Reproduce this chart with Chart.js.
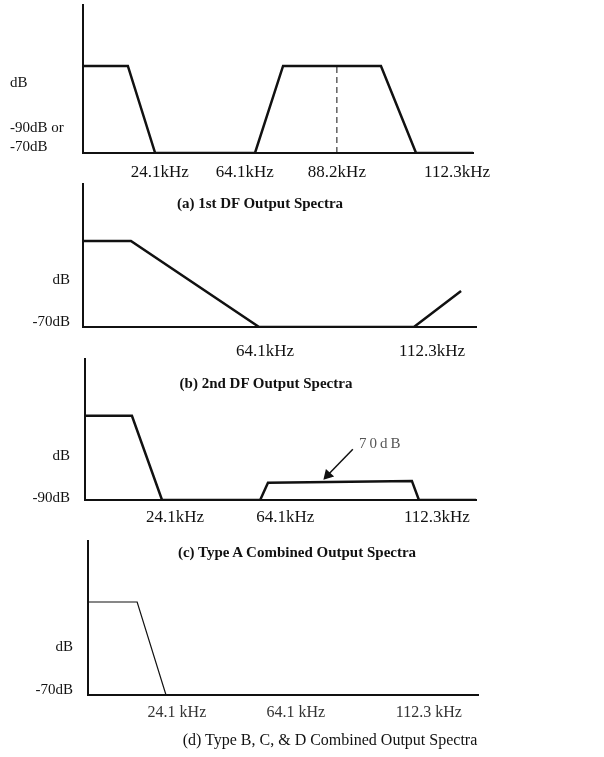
<!DOCTYPE html>
<html>
<head>
<meta charset="utf-8">
<script src="https://cdn.jsdelivr.net/npm/chart.js@4.4.1/dist/chart.umd.min.js"></script>
<style>
  body { margin: 0; background: #fff; }
  #wrap { position: relative; width: 604px; height: 757px; overflow: hidden; }
  canvas { position: absolute; left: 0; }
  .cap { position: absolute; transform: translate(-50%, -50%); font-family: "Liberation Serif", "Times New Roman", serif; white-space: nowrap; color: #111; }
</style>
</head>
<body>
<div id="wrap">
  <canvas id="panelA" width="604" height="183" style="top:0px"></canvas>
  <canvas id="panelB" width="604" height="180" style="top:183px"></canvas>
  <canvas id="panelC" width="604" height="183" style="top:352px"></canvas>
  <canvas id="panelD" width="604" height="190" style="top:540px"></canvas>
  <div class="cap" style="left:260px;top:203px;font-size:15px;font-weight:bold">(a) 1st DF Output Spectra</div>
  <div class="cap" style="left:266px;top:383px;font-size:15px;font-weight:bold">(b) 2nd DF Output Spectra</div>
  <div class="cap" style="left:297px;top:552px;font-size:15px;font-weight:bold">(c) Type A Combined Output Spectra</div>
  <div class="cap" style="left:330px;top:740px;font-size:16px">(d) Type B, C, &amp; D Combined Output Spectra</div>
</div>
<script>
const SERIF = '"Liberation Serif", "Times New Roman", serif';

// x runs 0..100 across each plot, y 0..100 from the floor to the top of the axis

// (a) 1st DF output
const aFreq = [0, 11.5, 18.5, 44.1, 51.3, 76.4, 85.4, 100];
const aLevel = [58.8, 58.8, 0, 0, 58.8, 58.8, 0, 0];
const aCenterFreq = [65.1, 65.1];
const aCenterLevel = [0, 58.8];
const aTickPos = [19.7, 41.5, 65.1, 95.9];
const aTickLabels = ['24.1kHz', '64.1kHz', '88.2kHz', '112.3kHz'];
const aLevelPos = [10.5, 47.3];
const aLevelLabels = [['-90dB or', '-70dB'], 'dB'];

// (b) 2nd DF output
const bFreq = [0, 12.2, 44.8, 84.2, 96.2];
const bLevel = [59.7, 59.7, 0, 0, 25];
const bTickPos = [46.3, 88.8];
const bTickLabels = ['64.1kHz', '112.3kHz'];
const bLevelPos = [3.5, 32.6];
const bLevelLabels = ['-70dB', 'dB'];

// (c) Type A combined
const cFreq = [0, 12.0, 19.7, 44.8, 46.8, 83.6, 85.4, 100];
const cLevel = [59.5, 59.5, 0, 0, 12.2, 13.5, 0, 0];
const cArrowFreq = [68.5, 62.1];
const cArrowLevel = [35.8, 17.6];
const cNoteFreq = 70.1;
const cNoteLevel = 39.2;
const cNoteText = '70dB';
const cTickPos = [23.0, 51.2, 90.0];
const cTickLabels = ['24.1kHz', '64.1kHz', '112.3kHz'];
const cLevelPos = [1.4, 31.1];
const cLevelLabels = ['-90dB', 'dB'];

// (d) Type B, C, D combined
const dFreq = [0, 12.6, 20.0, 100];
const dLevel = [60, 60, 0, 0];
const dTickPos = [22.8, 53.3, 87.4];
const dTickLabels = ['24.1 kHz', '64.1 kHz', '112.3 kHz'];
const dLevelPos = [3.2, 31];
const dLevelLabels = ['-70dB', 'dB'];

const pts = (xs, ys) => xs.map((x, i) => ({ x: x, y: ys[i] }));

const line = (xs, ys, extra) => Object.assign({
  data: pts(xs, ys),
  borderColor: '#111',
  borderWidth: 2.5,
  pointRadius: 0,
  fill: false,
  tension: 0
}, extra || {});

function makePanel(id, p) {
  return new Chart(document.getElementById(id), {
    type: 'line',
    data: { datasets: p.datasets },
    options: {
      responsive: false,
      animation: false,
      events: [],
      layout: { padding: p.pad },
      plugins: { legend: { display: false }, tooltip: { enabled: false } },
      scales: {
        x: {
          type: 'linear', min: 0, max: 100,
          grid: { display: false, drawTicks: false },
          border: { color: '#111', width: 2 },
          afterBuildTicks: s => { s.ticks = p.xTicks.map(v => ({ value: v })); },
          afterFit: s => { s.height = p.xHeight; s.paddingLeft = 0; s.paddingRight = 0; },
          ticks: {
            autoSkip: false, maxRotation: 0, padding: p.xPad, color: p.xColor || '#111',
            font: { family: SERIF, size: p.xSize },
            callback: (v, i) => p.xLabels[i]
          }
        },
        y: {
          type: 'linear', min: 0, max: 100,
          grid: { display: false, drawTicks: false },
          border: { color: '#111', width: 2 },
          afterBuildTicks: s => { s.ticks = p.yTicks.map(v => ({ value: v })); },
          afterFit: s => { s.width = p.yWidth; s.paddingTop = 0; s.paddingBottom = 0; },
          ticks: {
            autoSkip: false, crossAlign: p.yAlign, padding: p.yPad, color: '#111',
            font: { family: SERIF, size: 15, lineHeight: 1.25 },
            callback: (v, i) => p.yLabels[i]
          }
        }
      }
    },
    plugins: p.plugins || []
  });
}

const noteText = {
  id: 'noteText',
  afterDatasetsDraw(chart) {
    const { ctx, scales } = chart;
    ctx.save();
    ctx.font = '15px ' + SERIF;
    ctx.fillStyle = '#555';
    ctx.textAlign = 'left';
    ctx.textBaseline = 'middle';
    if ('letterSpacing' in ctx) ctx.letterSpacing = '3px';
    ctx.fillText(cNoteText, scales.x.getPixelForValue(cNoteFreq), scales.y.getPixelForValue(cNoteLevel));
    ctx.restore();
  }
};

makePanel('panelA', {
  datasets: [
    line(aFreq, aLevel),
    line(aCenterFreq, aCenterLevel, { borderWidth: 1, borderDash: [6, 4] })
  ],
  xTicks: aTickPos, xLabels: aTickLabels, xSize: 17, xPad: 9, xHeight: 30,
  yTicks: aLevelPos, yLabels: aLevelLabels, yAlign: 'far', yPad: 0, yWidth: 73,
  pad: { top: 5, left: 10, right: 131, bottom: 0 }
});

makePanel('panelB', {
  datasets: [line(bFreq, bLevel)],
  xTicks: bTickPos, xLabels: bTickLabels, xSize: 17, xPad: 14, xHeight: 36,
  yTicks: bLevelPos, yLabels: bLevelLabels, yAlign: 'near', yPad: 13, yWidth: 83,
  pad: { top: 0, left: 0, right: 128, bottom: 0 }
});

makePanel('panelC', {
  datasets: [
    line(cFreq, cLevel),
    line(cArrowFreq, cArrowLevel, {
      borderWidth: 1.5, pointStyle: 'triangle', pointRadius: [0, 5],
      pointRotation: [0, 223], pointBackgroundColor: '#111', pointBorderColor: '#111'
    })
  ],
  xTicks: cTickPos, xLabels: cTickLabels, xSize: 17, xPad: 7, xHeight: 35,
  yTicks: cLevelPos, yLabels: cLevelLabels, yAlign: 'near', yPad: 15, yWidth: 85,
  pad: { top: 0, left: 0, right: 128, bottom: 0 },
  plugins: [noteText]
});

makePanel('panelD', {
  datasets: [line(dFreq, dLevel, { borderWidth: 1.2 })],
  xTicks: dTickPos, xLabels: dTickLabels, xSize: 16, xPad: 8, xHeight: 35, xColor: '#333',
  yTicks: dLevelPos, yLabels: dLevelLabels, yAlign: 'near', yPad: 15, yWidth: 88,
  pad: { top: 0, left: 0, right: 126, bottom: 0 }
});
</script>
</body>
</html>
